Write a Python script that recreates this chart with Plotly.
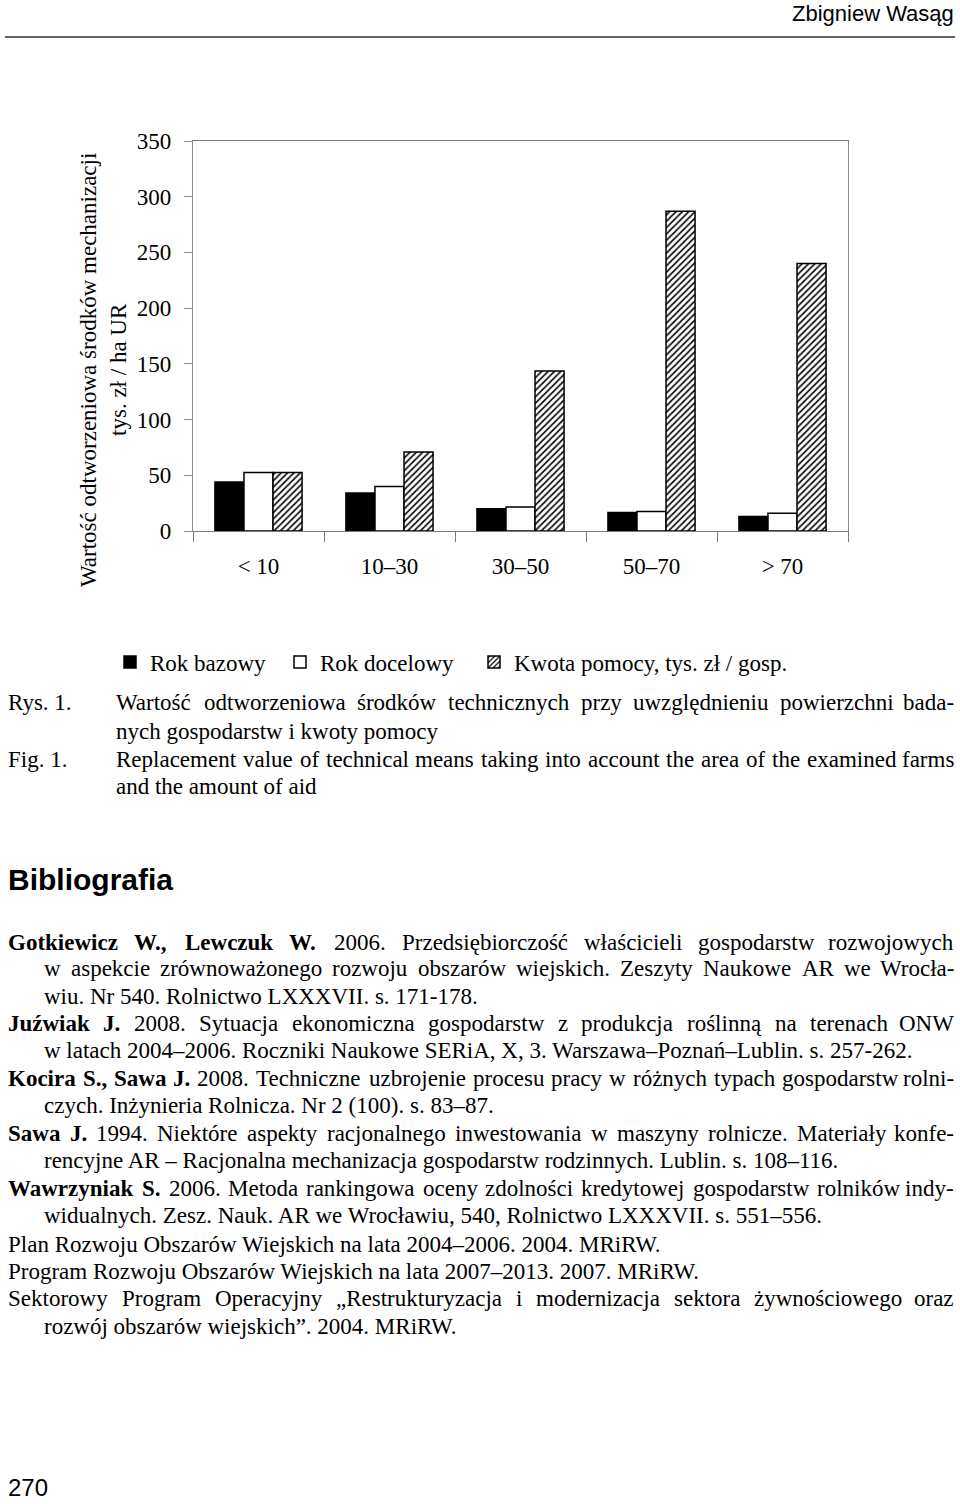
import glob
import os
import struct
import plotly.graph_objects as go

W, H = 960, 1504

# ---------------- data ----------------
categories = ["< 10", "10–30", "30–50", "50–70", "> 70"]
rok_bazowy = [44, 34, 20, 16.5, 13]
rok_docelowy = [52.5, 40, 21.5, 17.5, 16]
kwota_pomocy = [52.5, 71, 143.5, 287, 240]
y_ticks = [0, 50, 100, 150, 200, 250, 300, 350]
series_names = ["Rok bazowy", "Rok docelowy", "Kwota pomocy, tys. zł / gosp."]
y_title = ["Wartość odtworzeniowa środków mechanizacji", "tys. zł / ha UR"]

SERIF = "Liberation Serif, Times New Roman, serif"
SANS = "Liberation Sans, Arial, sans-serif"


# ---------------- font metrics for justified text ----------------
def find_font(name):
    for d in ["/usr/share/fonts", "/usr/local/share/fonts", os.path.expanduser("~/.fonts")]:
        hits = glob.glob(os.path.join(d, "**", name), recursive=True)
        if hits:
            return hits[0]
    return None


class Metrics:
    def __init__(self, path):
        self.ok = False
        if not path:
            return
        try:
            data = open(path, "rb").read()
            n = struct.unpack(">H", data[4:6])[0]
            tabs = {}
            for i in range(n):
                tag, _, off, ln = struct.unpack(">4sIII", data[12 + 16 * i:28 + 16 * i])
                tabs[tag.decode("latin1")] = off
            head = tabs["head"]
            self.upem = struct.unpack(">H", data[head + 18:head + 20])[0]
            hhea = tabs["hhea"]
            nhm = struct.unpack(">H", data[hhea + 34:hhea + 36])[0]
            hmtx = tabs["hmtx"]
            self.adv = [struct.unpack(">H", data[hmtx + 4 * i:hmtx + 4 * i + 2])[0] for i in range(nhm)]
            cmap = tabs["cmap"]
            nsub = struct.unpack(">H", data[cmap + 2:cmap + 4])[0]
            self.map = {}
            for i in range(nsub):
                pid, eid, off = struct.unpack(">HHI", data[cmap + 4 + 8 * i:cmap + 12 + 8 * i])
                st = cmap + off
                fmt = struct.unpack(">H", data[st:st + 2])[0]
                if fmt == 4 and pid == 3:
                    segx2 = struct.unpack(">H", data[st + 6:st + 8])[0]
                    seg = segx2 // 2
                    ends = struct.unpack(">%dH" % seg, data[st + 14:st + 14 + segx2])
                    so = st + 16 + segx2
                    starts = struct.unpack(">%dH" % seg, data[so:so + segx2])
                    do = so + segx2
                    deltas = struct.unpack(">%dh" % seg, data[do:do + segx2])
                    ro = do + segx2
                    ros = struct.unpack(">%dH" % seg, data[ro:ro + segx2])
                    for s in range(seg):
                        for c in range(starts[s], ends[s] + 1):
                            if c == 0xFFFF:
                                continue
                            if ros[s] == 0:
                                g = (c + deltas[s]) & 0xFFFF
                            else:
                                addr = ro + 2 * s + ros[s] + 2 * (c - starts[s])
                                g = struct.unpack(">H", data[addr:addr + 2])[0]
                                if g:
                                    g = (g + deltas[s]) & 0xFFFF
                            self.map[c] = g
                    break
            self.ok = True
        except Exception:
            self.ok = False

    def width(self, text, size):
        if not self.ok:
            return len(text) * 0.46 * size
        tot = 0
        for ch in text:
            g = self.map.get(ord(ch), 0)
            tot += self.adv[g] if g < len(self.adv) else self.adv[-1]
        return tot * size / self.upem


REG = Metrics(find_font("LiberationSerif-Regular.ttf"))
BOLD = Metrics(find_font("LiberationSerif-Bold.ttf"))

annotations = []


def txt(x, y, text, size=23, family=SERIF, xanchor="left", textangle=0):
    annotations.append(dict(
        x=x / W, y=1 - y / H, xref="paper", yref="paper", text=text,
        showarrow=False, xanchor=xanchor, yanchor="middle", textangle=textangle,
        font=dict(family=family, size=size, color="black"), borderpad=0, align="center"))


def line(segments, x0, x1, y, justify, size=23):
    if not justify:
        html = " ".join(("<b>%s</b>" % t) if b else t for t, b in segments)
        txt(x0, y, html, size)
        return
    words = []
    for t, b in segments:
        for w in t.split():
            words.append((w, b))
    widths = [(BOLD if b else REG).width(w, size) for w, b in words]
    gap = (x1 - x0 - sum(widths)) / max(len(words) - 1, 1)
    x = x0
    for i, ((w, b), wd) in enumerate(zip(words, widths)):
        label = "<b>%s</b>" % w if b else w
        if i == len(words) - 1:
            txt(x1, y, label, size, xanchor="right")
        else:
            txt(x, y, label, size)
        x += wd + gap


# ---------------- chart ----------------
fig = go.Figure()
fig.add_trace(go.Bar(
    x=categories, y=rok_bazowy, name=series_names[0], legend="legend",
    marker=dict(color="black", line=dict(color="black", width=1.5))))
fig.add_trace(go.Bar(
    x=categories, y=rok_docelowy, name=series_names[1], legend="legend2",
    marker=dict(color="white", line=dict(color="black", width=1.5))))
fig.add_trace(go.Bar(
    x=categories, y=kwota_pomocy, name=series_names[2], legend="legend3",
    marker=dict(color="white", line=dict(color="black", width=1.5),
                pattern=dict(shape="/", fgcolor="black", bgcolor="white", size=4.5, solidity=0.35))))

x0p, x1p = 193 / W, 848 / W
ytop, ybot = 141, 531

leg_common = dict(orientation="h", xanchor="left", yanchor="middle", y=1 - 662 / H,
                  font=dict(family=SERIF, size=23), bgcolor="rgba(0,0,0,0)")

fig.update_layout(
    template="none",
    width=W, height=H, margin=dict(l=0, r=0, t=0, b=0, pad=0, autoexpand=False),
    paper_bgcolor="white", plot_bgcolor="white",
    barmode="group", bargap=0.335, bargroupgap=0,
    font=dict(family=SERIF, size=23, color="black"),
    xaxis=dict(domain=[x0p, x1p], type="category", showgrid=False, automargin=False,
               showline=True, linecolor="#7a7a7a", linewidth=1.3, mirror=True,
               ticks="outside", tickson="boundaries", ticklen=10, tickcolor="#7a7a7a",
               ticklabelstandoff=14, tickfont=dict(family=SERIF, size=23)),
    yaxis=dict(domain=[1 - ybot / H, 1 - ytop / H], range=[0, 350], tickvals=y_ticks,
               showgrid=False, zeroline=False, automargin=False,
               showline=True, linecolor="#8a8a8a", linewidth=1.2, mirror=True,
               ticks="outside", ticklen=8, tickcolor="#8a8a8a",
               ticklabelstandoff=8, tickfont=dict(family=SERIF, size=23)),
    showlegend=True,
    legend=dict(x=110 / W, **leg_common),
    legend2=dict(x=280 / W, **leg_common),
    legend3=dict(x=474 / W, **leg_common),
)

# rotated y-axis title
txt(103, 370, "<br>".join(y_title), 23, textangle=-90, xanchor="center")

# header
txt(955, 14, "Zbigniew Wasąg", 22, family=SANS, xanchor="right")
fig.add_shape(type="line", xref="paper", yref="paper", x0=5 / W, x1=955 / W,
              y0=1 - 37 / H, y1=1 - 37 / H, line=dict(color="#333333", width=1.5))

# caption
txt(7, 702, "Rys. 1.")
line([("Wartość odtworzeniowa środków technicznych przy uwzględnieniu powierzchni bada-", False)],
     115, 955, 702, True)
line([("nych gospodarstw i kwoty pomocy", False)], 115, 955, 731, False)
txt(7, 759, "Fig. 1.")
line([("Replacement value of technical means taking into account the area of the examined farms", False)],
     115, 955, 759, True)
line([("and the amount of aid", False)], 115, 955, 786, False)

# bibliography
txt(7, 879, "<b>Bibliografia</b>", 30, family=SANS)

refs = [
    ([("Gotkiewicz W., Lewczuk W.", True), ("2006. Przedsiębiorczość właścicieli gospodarstw rozwojowych", False)], 7, 942, True),
    ([("w aspekcie zrównoważonego rozwoju obszarów wiejskich. Zeszyty Naukowe AR we Wrocła-", False)], 43, 969, True),
    ([("wiu. Nr 540. Rolnictwo LXXXVII. s. 171-178.", False)], 43, 996, False),
    ([("Juźwiak J.", True), ("2008. Sytuacja ekonomiczna gospodarstw z produkcja roślinną na terenach ONW", False)], 7, 1023, True),
    ([("w latach 2004–2006. Roczniki Naukowe SERiA, X, 3. Warszawa–Poznań–Lublin. s. 257-262.", False)], 43, 1050, False),
    ([("Kocira S., Sawa J.", True), ("2008. Techniczne uzbrojenie procesu pracy w różnych typach gospodarstw rolni-", False)], 7, 1078, True),
    ([("czych. Inżynieria Rolnicza. Nr 2 (100). s. 83–87.", False)], 43, 1105, False),
    ([("Sawa J.", True), ("1994. Niektóre aspekty racjonalnego inwestowania w maszyny rolnicze. Materiały konfe-", False)], 7, 1133, True),
    ([("rencyjne AR – Racjonalna mechanizacja gospodarstw rodzinnych. Lublin. s. 108–116.", False)], 43, 1160, False),
    ([("Wawrzyniak S.", True), ("2006. Metoda rankingowa oceny zdolności kredytowej gospodarstw rolników indy-", False)], 7, 1188, True),
    ([("widualnych. Zesz. Nauk. AR we Wrocławiu, 540, Rolnictwo LXXXVII. s. 551–556.", False)], 43, 1215, False),
    ([("Plan Rozwoju Obszarów Wiejskich na lata 2004–2006. 2004. MRiRW.", False)], 7, 1244, False),
    ([("Program Rozwoju Obszarów Wiejskich na lata 2007–2013. 2007. MRiRW.", False)], 7, 1271, False),
    ([("Sektorowy Program Operacyjny „Restrukturyzacja i modernizacja sektora żywnościowego oraz", False)], 7, 1298, True),
    ([("rozwój obszarów wiejskich”. 2004. MRiRW.", False)], 43, 1326, False),
]
for segs, xs, ys, just in refs:
    line(segs, xs, 955, ys, just)

# page number
txt(7, 1487, "270", 24, family=SANS)

fig.update_layout(annotations=annotations)
fig.write_html("out.html")
